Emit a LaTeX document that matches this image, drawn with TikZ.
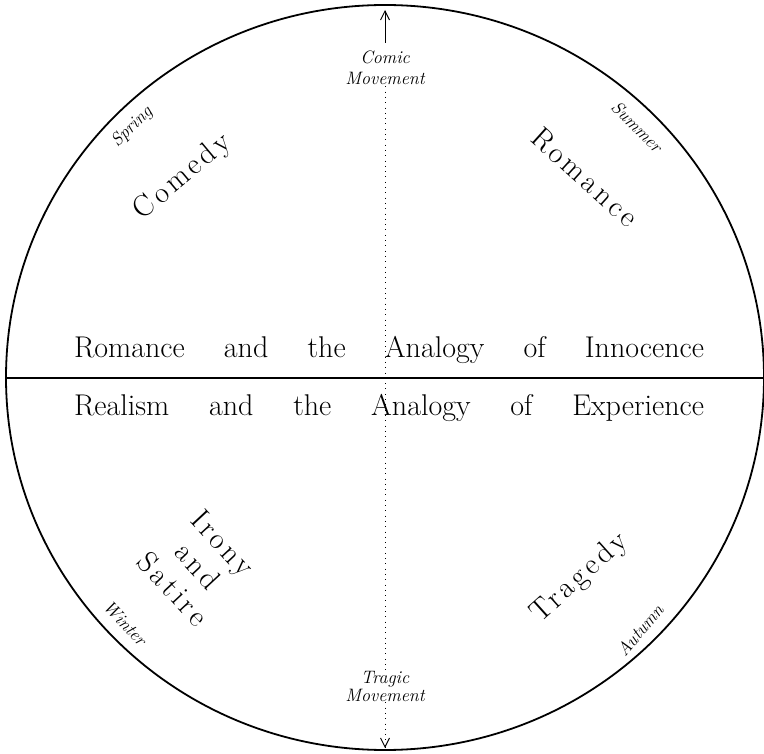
\documentclass[tikz,border=0pt]{standalone}
\usepackage{fontspec}
\newfontfamily\spacedrm{lmroman17-regular.otf}[LetterSpace=12]
\usetikzlibrary{arrows.meta}
\tikzset{
  rim/.style={line width=1.8pt},
  bigword/.style={font=\spacedrm\fontsize{30}{34}\selectfont, inner sep=0pt},
  season/.style={font=\fontsize{18}{20}\selectfont\itshape, inner sep=0pt},
  movetext/.style={font=\fontsize{18}{20}\selectfont\itshape, inner sep=1pt},
  band/.style={font=\fontsize{30}{34}\selectfont, inner sep=0pt},
  dotline/.style={line width=0.8pt, dash pattern=on 0.8pt off 4.5pt},
  arrowline/.style={line width=0.9pt, -{Straight Barb[length=9pt,width=9pt]}},
}
\begin{document}
\begin{tikzpicture}[x=1pt,y=-1pt]
\useasboundingbox (0,0) rectangle (764,754);
\fill[white] (0,0) rectangle (764,754);
% outer circle and dividing line
\draw[rim] (385,377.5) ellipse [x radius=379, y radius=372.5];
\coordinate (L) at (6,378);
\coordinate (R) at (764,378);
\draw[rim] (L) -- (R);
% movements
\node[movetext, anchor=base] (comic) at (385,64) {Comic};
\node[movetext, anchor=base] (comicmv) at (385,85) {Movement};
\node[movetext, anchor=base] (tragic) at (385,683) {Tragic};
\node[movetext, anchor=base] (tragicmv) at (385,701) {Movement};
\coordinate (toptip) at (385,10);
\coordinate (topfoot) at (385,43);
\coordinate (bottip) at (385,748);
\draw[arrowline] (topfoot) -- (toptip);
\draw[dotline] (comicmv.south) -- (tragic.north);
\draw[dotline] (tragicmv.south) -- (bottip);
\draw[line width=0.9pt, {Straight Barb[length=9pt,width=9pt]}-] (bottip) -- ++(0,-1);
% central band
\node[band, anchor=base] (innocence) at (389,358) {\makebox[630pt][s]{Romance and the Analogy of Innocence}};
\node[band, anchor=base] (experience) at (389,416) {\makebox[630pt][s]{Realism and the Analogy of Experience}};
% seasons
\node[season, rotate=45] (spring) at (132,127) {Spring};
\node[season, rotate=-45] (summer) at (637,127) {Summer};
\node[season, rotate=-47] (winter) at (125,623) {Winter};
\node[season, rotate=50] (autumn) at (640,630) {Autumn};
% mythoi
\node[bigword, rotate=40] (comedy) at (183,177) {Comedy};
\node[bigword, rotate=-42] (romance) at (585,177) {Romance};
\node[bigword, rotate=-47, align=center] (irony) at (198,566) {Irony\\and\\Satire};
\node[bigword, rotate=42] (tragedy) at (580,578) {Tragedy};
\end{tikzpicture}
\end{document}
